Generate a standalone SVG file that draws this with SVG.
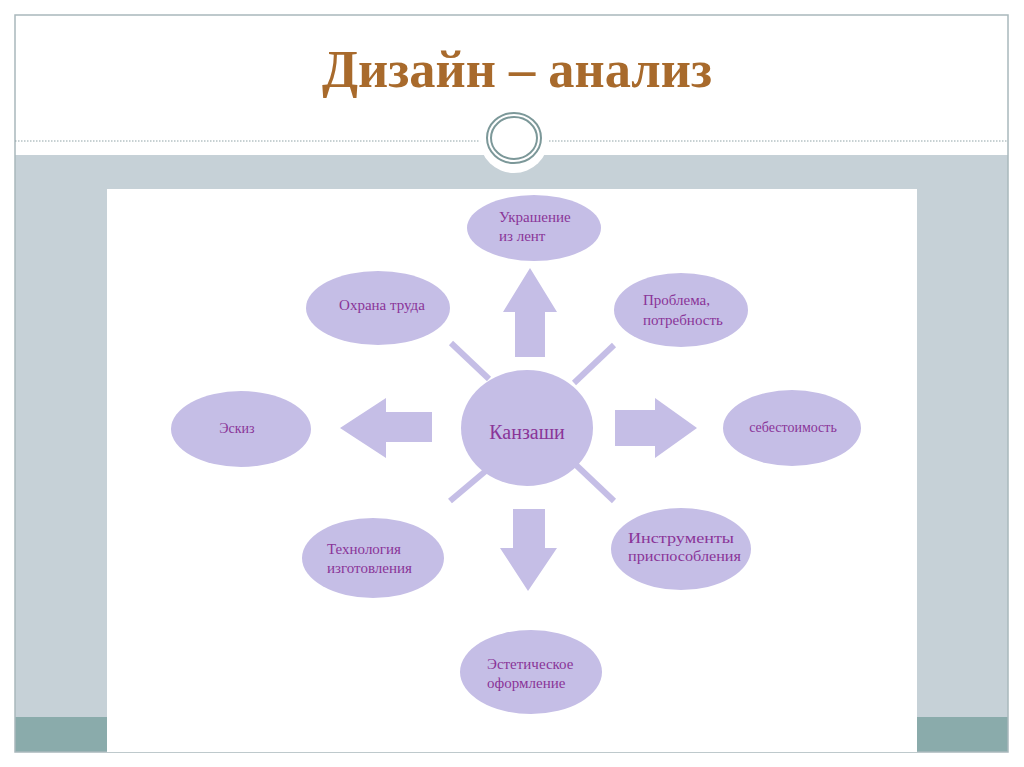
<svg xmlns="http://www.w3.org/2000/svg" width="1024" height="767" viewBox="0 0 1024 767">
<style>
.node{fill:#c5bee6}
.lbl{font-family:"Liberation Serif","Times New Roman",serif;font-size:15px;fill:#8a3598}
.big{font-size:20px}
.sm{font-size:14px}
.ray{stroke:#c5bee6;stroke-width:6;stroke-linecap:butt}
.arrow{fill:#c5bee6}
</style>
<rect width="1024" height="767" fill="#ffffff"/>
<g id="frame">
<rect x="15" y="155" width="993" height="562" fill="#c6d1d7"/>
<rect x="15" y="717" width="993" height="35" fill="#8aabab"/>
<rect x="15" y="15" width="993" height="737" fill="none" stroke="#a9b8bc" stroke-width="1.5"/>
<line x1="15" y1="141" x2="1008" y2="141" stroke="#8fa3a6" stroke-width="1" stroke-dasharray="1.5 1.5"/>
<ellipse cx="514" cy="140" rx="34" ry="33" fill="#ffffff"/>
<ellipse cx="514" cy="138" rx="27" ry="25" fill="none" stroke="#7c9899" stroke-width="2"/>
<ellipse cx="514" cy="138" rx="23" ry="21" fill="none" stroke="#7c9899" stroke-width="2"/>
<text x="517" y="87" text-anchor="middle" font-family="Liberation Serif,serif" font-weight="bold" font-size="52" fill="#a86a2c" textLength="390" lengthAdjust="spacingAndGlyphs">Дизайн – анализ</text>
<rect x="107" y="189" width="810" height="563" fill="#ffffff"/>
</g>
<g id="connectors">
<line class="ray" x1="451" y1="343" x2="489" y2="379"/>
<line class="ray" x1="614" y1="345" x2="574" y2="383"/>
<line class="ray" x1="450" y1="501" x2="488" y2="469"/>
<line class="ray" x1="614" y1="501" x2="576" y2="465"/>
<polygon class="arrow" points="530,268 557,312 545,312 545,357 515,357 515,312 503,312"/>
<polygon class="arrow" points="697,428 655,398 655,410 615,410 615,446 655,446 655,458"/>
<polygon class="arrow" points="340,428 386,398 386,412 432,412 432,442 386,442 386,458"/>
<polygon class="arrow" points="528,591 557,548 545,548 545,509 513,509 513,548 500,548"/>
</g>
<g id="n-center">
<ellipse class="node" cx="527" cy="428" rx="66" ry="58"/>
<text class="lbl big" x="527" y="439" text-anchor="middle">Канзаши</text>
</g>
<g id="n-top">
<ellipse class="node" cx="534" cy="228" rx="67" ry="33"/>
<text class="lbl" x="499" y="222">Украшение</text>
<text class="lbl" x="499" y="241">из лент</text>
</g>
<g id="n-ohrana">
<ellipse class="node" cx="378" cy="308" rx="72" ry="37"/>
<text class="lbl" x="382" y="310" text-anchor="middle">Охрана труда</text>
</g>
<g id="n-problem">
<ellipse class="node" cx="681" cy="310" rx="67" ry="37"/>
<text class="lbl" x="643" y="305">Проблема,</text>
<text class="lbl" x="643" y="325">потребность</text>
</g>
<g id="n-eskiz">
<ellipse class="node" cx="241" cy="429" rx="70" ry="38"/>
<text class="lbl sm" x="237" y="433" text-anchor="middle">Эскиз</text>
</g>
<g id="n-cost">
<ellipse class="node" cx="792" cy="428" rx="69" ry="38"/>
<text class="lbl sm" x="793" y="432" text-anchor="middle">себестоимость</text>
</g>
<g id="n-tech">
<ellipse class="node" cx="373" cy="558" rx="71" ry="40"/>
<text class="lbl" x="327" y="554">Технология</text>
<text class="lbl" x="327" y="573">изготовления</text>
</g>
<g id="n-tools">
<ellipse class="node" cx="681" cy="549" rx="70" ry="41"/>
<text class="lbl" x="628" y="543" textLength="106" lengthAdjust="spacingAndGlyphs">Инструменты</text>
<text class="lbl" x="628" y="561" textLength="113" lengthAdjust="spacingAndGlyphs">приспособления</text>
</g>
<g id="n-aesthetic">
<ellipse class="node" cx="531" cy="672" rx="71" ry="42"/>
<text class="lbl" x="487" y="669">Эстетическое</text>
<text class="lbl" x="487" y="688">оформление</text>
</g>
</svg>
